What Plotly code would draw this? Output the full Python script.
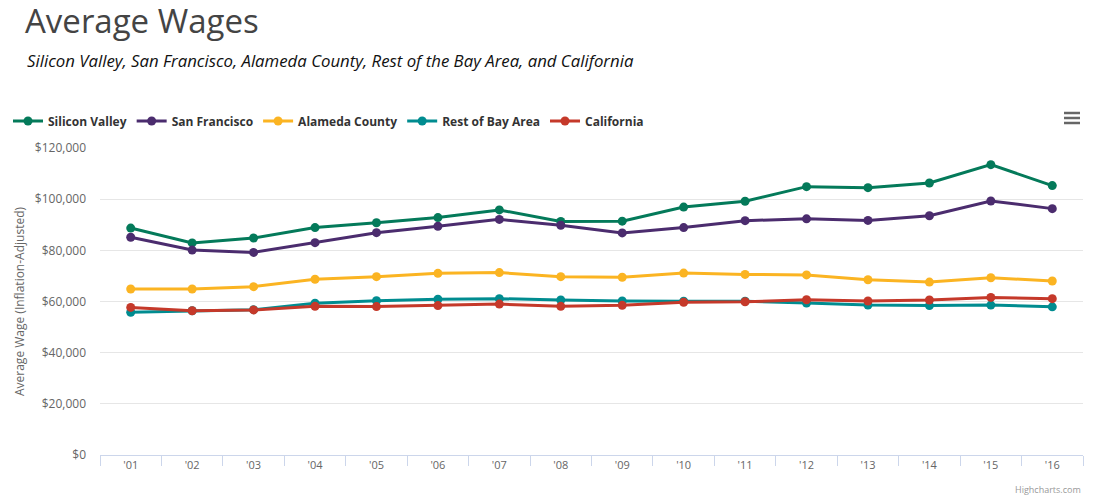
import plotly.graph_objects as go

# Average wages, inflation-adjusted, by region
years = ["'01", "'02", "'03", "'04", "'05", "'06", "'07", "'08",
         "'09", "'10", "'11", "'12", "'13", "'14", "'15", "'16"]

silicon_valley = [88700, 82900, 84800, 88900, 90800, 92800, 95800, 91300,
                  91400, 96900, 99200, 104900, 104500, 106300, 113500, 105300]
san_francisco = [85100, 80100, 79200, 83000, 86900, 89400, 92100, 89800,
                 86800, 88900, 91600, 92300, 91700, 93500, 99300, 96300]
alameda_county = [64900, 64900, 65800, 68700, 69700, 71000, 71300, 69700,
                  69500, 71100, 70600, 70400, 68500, 67600, 69300, 68000]
rest_of_bay = [55800, 56400, 56800, 59300, 60300, 60900, 61100, 60600,
               60200, 60100, 60100, 59400, 58600, 58400, 58600, 57900]
california = [57700, 56400, 56700, 58100, 58000, 58400, 59000, 58100,
              58500, 59700, 59900, 60700, 60200, 60600, 61600, 61100]

y_ticks = [0, 20000, 40000, 60000, 80000, 100000, 120000]

series = [
    ('Silicon Valley', silicon_valley, '#047a5a'),
    ('San Francisco', san_francisco, '#4b2c6e'),
    ('Alameda County', alameda_county, '#fbb422'),
    ('Rest of Bay Area', rest_of_bay, '#008c90'),
    ('California', california, '#c5392a'),
]

# the page body has an 8px margin, so the figure is drawn 8px in and 8px down
PAGE_OFF = 8
W, H = 1093 - PAGE_OFF, 502 - PAGE_OFF
PLOT_L, PLOT_R, PLOT_T, PLOT_B = 100, 1083, 148, 455  # page pixels


def px(x):
    """page x pixel -> paper x"""
    return (x - PLOT_L) / (PLOT_R - PLOT_L)


def py(y):
    """page y pixel -> paper y"""
    return (PLOT_B - y) / (PLOT_B - PLOT_T)


fig = go.Figure()
for name, values, colour in series:
    fig.add_trace(go.Scatter(x=years, y=values, name=name,
                             mode='lines+markers',
                             line=dict(color=colour, width=3),
                             marker=dict(color=colour, size=9)))

fig.update_layout(
    width=W, height=H,
    margin=dict(l=PLOT_L - PAGE_OFF, r=W - (PLOT_R - PAGE_OFF),
                t=PLOT_T - PAGE_OFF, b=H - (PLOT_B - PAGE_OFF),
                autoexpand=False),
    paper_bgcolor='white', plot_bgcolor='white',
    font=dict(family='Open Sans', color='#666666', size=11),
    title=dict(text='Average Wages', x=(25 - PAGE_OFF) / W, xanchor='left',
               y=1 - (21 - PAGE_OFF) / H, yanchor='middle',
               font=dict(family='Open Sans', size=33, color='#444444')),
    legend=dict(orientation='h', x=px(PAGE_OFF), xanchor='left', y=py(121),
                yanchor='middle', itemwidth=30,
                font=dict(family='Open Sans', size=12, color='#333333',
                          weight='bold')),
    annotations=[
        dict(text='<i>Silicon Valley, San Francisco, Alameda County, '
                  'Rest of the Bay Area, and California</i>',
             xref='paper', yref='paper', x=px(25), xanchor='left',
             y=py(60), yanchor='middle', showarrow=False,
             font=dict(family='Open Sans', size=16.8, color='#111111')),
        dict(text='Highcharts.com', xref='paper', yref='paper',
             x=px(1083), xanchor='right', y=py(489), yanchor='middle',
             showarrow=False, font=dict(family='Open Sans', size=9, color='#999999')),
    ],
    showlegend=True,
)

# hamburger menu icon
for dy in (113, 118, 123):
    fig.add_shape(type='line', xref='paper', yref='paper',
                  x0=px(1064), x1=px(1080), y0=py(dy), y1=py(dy),
                  line=dict(color='#666666', width=2.5))

fig.update_xaxes(type='category', range=[-0.5, len(years) - 0.5],
                 tickson='boundaries', ticks='outside', automargin=False,
                 ticklen=10, tickcolor='#ccd6eb', showline=True,
                 linecolor='#ccd6eb', linewidth=1, showgrid=False,
                 tickfont=dict(size=11, color='#666666'))
fig.update_yaxes(range=[0, 120000], tickvals=y_ticks, tickformat='$,.0f',
                 gridcolor='#e6e6e6', zeroline=False, ticklabelstandoff=13,
                 showline=False, ticks='', automargin=False,
                 tickfont=dict(size=12, color='#666666'),
                 title=dict(text='Average Wage (Inflation-Adjusted)', standoff=7,
                            font=dict(size=12, color='#666666')))

fig.write_html('out.html')
